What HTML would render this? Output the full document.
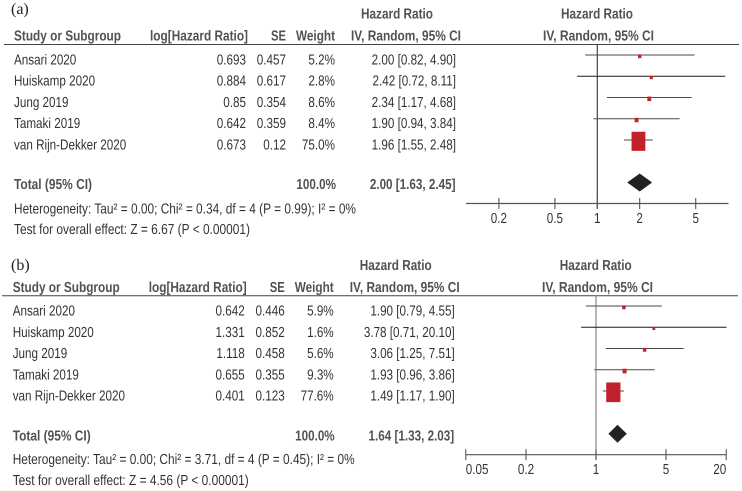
<!DOCTYPE html>
<html>
<head>
<meta charset="utf-8">
<title>Forest plots of hazard ratios</title>
<style>
html,body{margin:0;padding:0;background:#fff;width:742px;height:491px;overflow:hidden}
svg{display:block;filter:blur(0.35px)}
text{font-family:"Liberation Sans",Arial,sans-serif;font-size:14.5px;fill:#333;text-rendering:geometricPrecision}
.hd{font-weight:bold;fill:#525252;font-size:14.5px}
.lab{font-family:"Liberation Serif",serif;font-size:16px;fill:#222}
</style>
</head>
<body>
<svg id="chart" width="742" height="491" viewBox="0 0 742 491" xmlns="http://www.w3.org/2000/svg">
  <g id="panel-a">
    <text class="lab" x="11" y="14">(a)</text>
    <text class="hd" x="361" y="18.5" textLength="72" lengthAdjust="spacingAndGlyphs">Hazard Ratio</text>
    <text class="hd" x="561" y="18.5" textLength="72" lengthAdjust="spacingAndGlyphs">Hazard Ratio</text>
    <text class="hd" x="14" y="40.7" textLength="107" lengthAdjust="spacingAndGlyphs">Study or Subgroup</text>
    <text class="hd" x="150" y="40.7" textLength="98" lengthAdjust="spacingAndGlyphs">log[Hazard Ratio]</text>
    <text class="hd" x="271" y="40.7" textLength="15" lengthAdjust="spacingAndGlyphs">SE</text>
    <text class="hd" x="296" y="40.7" textLength="39" lengthAdjust="spacingAndGlyphs">Weight</text>
    <text class="hd" x="351" y="40.7" textLength="110" lengthAdjust="spacingAndGlyphs">IV, Random, 95% CI</text>
    <text class="hd" x="543" y="40.7" textLength="111" lengthAdjust="spacingAndGlyphs">IV, Random, 95% CI</text>
    <line x1="4" x2="739" y1="44.5" y2="44.5" stroke="#444" stroke-width="1"/>
    <text class="hd" x="14" y="189" textLength="78" lengthAdjust="spacingAndGlyphs">Total (95% CI)</text>
    <text x="14" y="213.5" textLength="342" lengthAdjust="spacingAndGlyphs">Heterogeneity: Tau² = 0.00; Chi² = 0.34, df = 4 (P = 0.99); I² = 0%</text>
    <text x="14" y="234" textLength="236" lengthAdjust="spacingAndGlyphs">Test for overall effect: Z = 6.67 (P &lt; 0.00001)</text>
  </g>
  <g id="panel-b">
    <text class="lab" x="11" y="270">(b)</text>
    <text class="hd" x="359.7" y="269.8" textLength="72" lengthAdjust="spacingAndGlyphs">Hazard Ratio</text>
    <text class="hd" x="559.7" y="269.8" textLength="72" lengthAdjust="spacingAndGlyphs">Hazard Ratio</text>
    <text class="hd" x="12.7" y="292" textLength="107" lengthAdjust="spacingAndGlyphs">Study or Subgroup</text>
    <text class="hd" x="148.7" y="292" textLength="98" lengthAdjust="spacingAndGlyphs">log[Hazard Ratio]</text>
    <text class="hd" x="269.7" y="292" textLength="15" lengthAdjust="spacingAndGlyphs">SE</text>
    <text class="hd" x="294.7" y="292" textLength="39" lengthAdjust="spacingAndGlyphs">Weight</text>
    <text class="hd" x="349.7" y="292" textLength="110" lengthAdjust="spacingAndGlyphs">IV, Random, 95% CI</text>
    <text class="hd" x="542" y="292" textLength="111" lengthAdjust="spacingAndGlyphs">IV, Random, 95% CI</text>
    <line x1="2" x2="738" y1="295.7" y2="295.7" stroke="#444" stroke-width="1"/>
    <text class="hd" x="12.7" y="440.3" textLength="78" lengthAdjust="spacingAndGlyphs">Total (95% CI)</text>
    <text x="12.7" y="464" textLength="342" lengthAdjust="spacingAndGlyphs">Heterogeneity: Tau² = 0.00; Chi² = 3.71, df = 4 (P = 0.45); I² = 0%</text>
    <text x="12.7" y="485" textLength="236" lengthAdjust="spacingAndGlyphs">Test for overall effect: Z = 4.56 (P &lt; 0.00001)</text>
  </g>
</svg>
<script>
var studies = ["Ansari 2020", "Huiskamp 2020", "Jung 2019", "Tamaki 2019", "van Rijn-Dekker 2020"];

var logHrA = [0.693, 0.884, 0.85, 0.642, 0.673];
var seA = [0.457, 0.617, 0.354, 0.359, 0.12];
var weightA = [5.2, 2.8, 8.6, 8.4, 75.0];
var hrA = [2.00, 2.42, 2.34, 1.90, 1.96];
var lowerA = [0.82, 0.72, 1.17, 0.94, 1.55];
var upperA = [4.90, 8.11, 4.68, 3.84, 2.48];
var totalWeightA = [100.0];
var totalA = [2.00, 1.63, 2.45];
var ticksA = [0.2, 0.5, 1, 2, 5];

var logHrB = [0.642, 1.331, 1.118, 0.655, 0.401];
var seB = [0.446, 0.852, 0.458, 0.355, 0.123];
var weightB = [5.9, 1.6, 5.6, 9.3, 77.6];
var hrB = [1.90, 3.78, 3.06, 1.93, 1.49];
var lowerB = [0.79, 0.71, 1.25, 0.96, 1.17];
var upperB = [4.55, 20.10, 7.51, 3.86, 1.90];
var totalWeightB = [100.0];
var totalB = [1.64, 1.33, 2.03];
var ticksB = [0.05, 0.2, 1, 5, 20];

var SVG_NS = "http://www.w3.org/2000/svg";
var CONDENSE = 0.805;

function mk(parent, tag, name, attrs, content) {
  var el = document.createElementNS(SVG_NS, tag);
  
  
  for (var k in attrs) { el.setAttribute(k, attrs[k]); }
  if (content !== undefined) { el.textContent = content; }
  parent.appendChild(el);
  return el;
}

function label(parent, name, x, y, str, cls, anchor) {
  var attrs = { x: x, y: y, "text-anchor": anchor || "end" };
  if (cls) { attrs["class"] = cls; }
  var el = mk(parent, "text", name, attrs, str);
  var len = el.getComputedTextLength() * CONDENSE;
  el.setAttribute("textLength", len.toFixed(2));
  el.setAttribute("lengthAdjust", "spacingAndGlyphs");
  return el;
}

function ciText(h, l, u) {
  return h.toFixed(2) + " [" + l.toFixed(2) + ", " + u.toFixed(2) + "]";
}

function drawPanel(p) {
  var g = document.getElementById(p.id);
  var xOf = function (v) { return p.x1 + p.pxPerDecade * Math.log10(v); };
  var rowY = function (i) { return p.rowTop + p.rowStep * i; };

  mk(g, "line", "null-effect-line", { x1: p.x1, x2: p.x1, y1: p.ruleY, y2: p.axisY + 5, stroke: p.nullColor, "stroke-width": 1.2 });

  p.studies.forEach(function (s, i) {
    var by = rowY(i) + 9.4 + p.dy;
    label(g, "study-name-" + (i + 1), 14 + p.dx, by, s, null, "start");
    label(g, "log-hazard-value-" + (i + 1), 246 + p.dx, by, String(p.logHr[i]));
    label(g, "se-value-" + (i + 1), 286 + p.dx, by, String(p.se[i]));
    label(g, "weight-value-" + (i + 1), 335 + p.dx, by, p.weight[i].toFixed(1) + "%");
    label(g, "hazard-ci-value-" + (i + 1), 456 + p.dx, by, ciText(p.hr[i], p.lower[i], p.upper[i]));

    var cy = rowY(i);
    mk(g, "line", "ci-line-" + (i + 1), {
      x1: xOf(p.lower[i]), x2: xOf(p.upper[i]), y1: cy, y2: cy,
      stroke: i === 1 ? "#1a1a1a" : "#4a4a4a", "stroke-width": 1
    });
    var w = 2.6 + 0.15 * p.weight[i];
    var h = 2.6 + 0.22 * p.weight[i];
    mk(g, "rect", "effect-marker-" + (i + 1), {
      x: xOf(p.hr[i]) - w / 2, y: cy + 1.3 - h / 2, width: w, height: h, fill: "#c2202a"
    });
  });

  label(g, "total-weight-value", 336 + p.dx, p.totalBase, p.totalWeight[0].toFixed(1) + "%", "hd");
  label(g, "total-hazard-value", 455.5 + p.dx, p.totalBase, ciText(p.total[0], p.total[1], p.total[2]), "hd");

  var cx = xOf(p.total[0]), dY = p.diamondY, half = 9;
  mk(g, "polygon", "total-diamond", {
    points: [xOf(p.total[1]) + "," + dY, cx + "," + (dY - half), xOf(p.total[2]) + "," + dY, cx + "," + (dY + half)].join(" "),
    fill: "#222"
  });

  mk(g, "line", "x-axis-line", { x1: p.axisFrom, x2: p.axisTo, y1: p.axisY, y2: p.axisY, stroke: "#555", "stroke-width": 1.2 });
  p.ticks.forEach(function (t, i) {
    mk(g, "line", "x-tick-" + t, { x1: xOf(t), x2: xOf(t), y1: p.axisY - 5.5, y2: p.axisY + 5.5, stroke: "#555", "stroke-width": 1.1 });
    var anchor = "middle";
    if (p.edgeLabels && i === 0) { anchor = "start"; }
    if (p.edgeLabels && i === p.ticks.length - 1) { anchor = "end"; }
    label(g, "x-tick-label-" + t, xOf(t), p.axisY + 19.5, String(t), null, anchor);
  });
}

drawPanel({
  id: "panel-a", studies: studies, logHr: logHrA, se: seA, weight: weightA, hr: hrA, lower: lowerA, upper: upperA,
  total: totalA, totalWeight: totalWeightA, ticks: ticksA,
  x1: 597.3, pxPerDecade: 140.8, rowTop: 55, rowStep: 21.25, dx: 0, dy: 0, totalBase: 189,
  diamondY: 182.5, axisY: 203.5, axisFrom: 466, axisTo: 728.5, ruleY: 44.5, nullColor: "#444", edgeLabels: false
});
drawPanel({
  id: "panel-b", studies: studies, logHr: logHrB, se: seB, weight: weightB, hr: hrB, lower: lowerB, upper: upperB,
  total: totalB, totalWeight: totalWeightB, ticks: ticksB,
  x1: 596, pxPerDecade: 100.1, rowTop: 306, rowStep: 21.25, dx: -1.3, dy: 0.3, totalBase: 440.3,
  diamondY: 433.7, axisY: 454.7, axisFrom: 466, axisTo: 726.5, ruleY: 295.7, nullColor: "#888", edgeLabels: true
});
</script>
</body>
</html>
